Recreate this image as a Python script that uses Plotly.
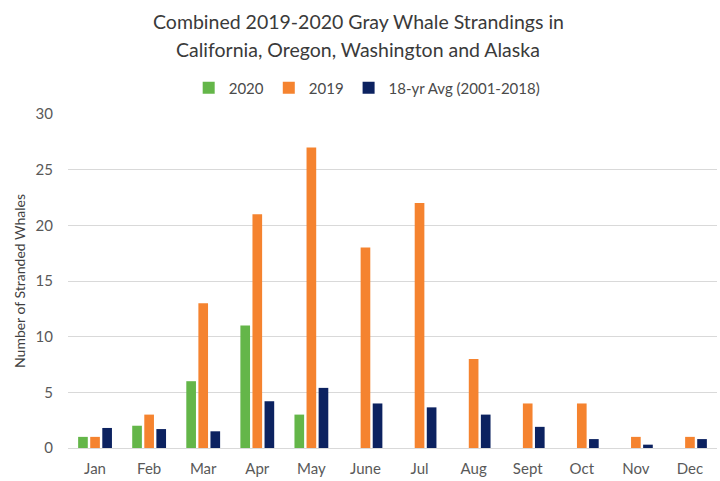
import plotly.graph_objects as go

months = ["Jan", "Feb", "Mar", "Apr", "May", "June", "Jul", "Aug", "Sept", "Oct", "Nov", "Dec"]
y2020 = [1, 2, 6, 11, 3, None, None, None, None, None, None, None]
y2019 = [1, 3, 13, 21, 27, 18, 22, 8, 4, 4, 1, 1]
avg18 = [1.8, 1.7, 1.5, 4.2, 5.4, 4.0, 3.65, 3.0, 1.9, 0.8, 0.3, 0.8]
series_names = ["2020", "2019", "18-yr Avg (2001-2018)"]
title_lines = ["Combined 2019-2020 Gray Whale Strandings in",
               "California, Oregon, Washington and Alaska"]
y_title = "Number of Stranded Whales"
y_ticks = [0, 5, 10, 15, 20, 25, 30]

colors = ["#64B649", "#F5832F", "#0C2260"]
FONT = "Lato, Carlito, 'Liberation Sans', sans-serif"
TXT = "#595959"

fig = go.Figure()
for name, vals, col in zip(series_names, [y2020, y2019, avg18], colors):
    fig.add_trace(go.Bar(x=months, y=vals, name=name, marker=dict(color=col, line=dict(width=0))))

fig.update_layout(
    width=720, height=481,
    margin=dict(l=68, r=3, t=114, b=33, autoexpand=False),
    paper_bgcolor="white", plot_bgcolor="white",
    barmode="group", bargap=0.33, bargroupgap=0.2,
    font=dict(family=FONT, size=15, color=TXT),
    showlegend=True,
    legend=dict(orientation="h", x=0.461, xanchor="center", y=1.078, yanchor="middle",
                font=dict(family=FONT, size=15, color="#4A4A4A"), itemwidth=30,
                traceorder="normal", bgcolor="rgba(0,0,0,0)"),
    annotations=[
        dict(text=title_lines[0], x=0.447, y=1.2784, xref="paper", yref="paper",
             xanchor="center", yanchor="middle", showarrow=False,
             font=dict(family=FONT, size=19.5, color="#3A3A3A")),
        dict(text=title_lines[1], x=0.447, y=1.1946, xref="paper", yref="paper",
             xanchor="center", yanchor="middle", showarrow=False,
             font=dict(family=FONT, size=19.5, color="#3A3A3A")),
    ],
)
fig.update_xaxes(showgrid=False, showline=False, zeroline=False, ticks="",
                 ticklabelstandoff=10, tickfont=dict(family=FONT, size=15, color=TXT),
                 automargin=False)
fig.update_yaxes(range=[0, 30], tickvals=y_ticks, showgrid=True, gridcolor="#D9D9D9", gridwidth=1,
                 zeroline=True, zerolinecolor="#D9D9D9", zerolinewidth=1, showline=False, ticks="",
                 ticklabelstandoff=14, tickfont=dict(family=FONT, size=15, color=TXT),
                 title=dict(text=y_title, standoff=6, font=dict(family=FONT, size=14, color="#404040")),
                 automargin=False)

fig.write_html("out.html")
